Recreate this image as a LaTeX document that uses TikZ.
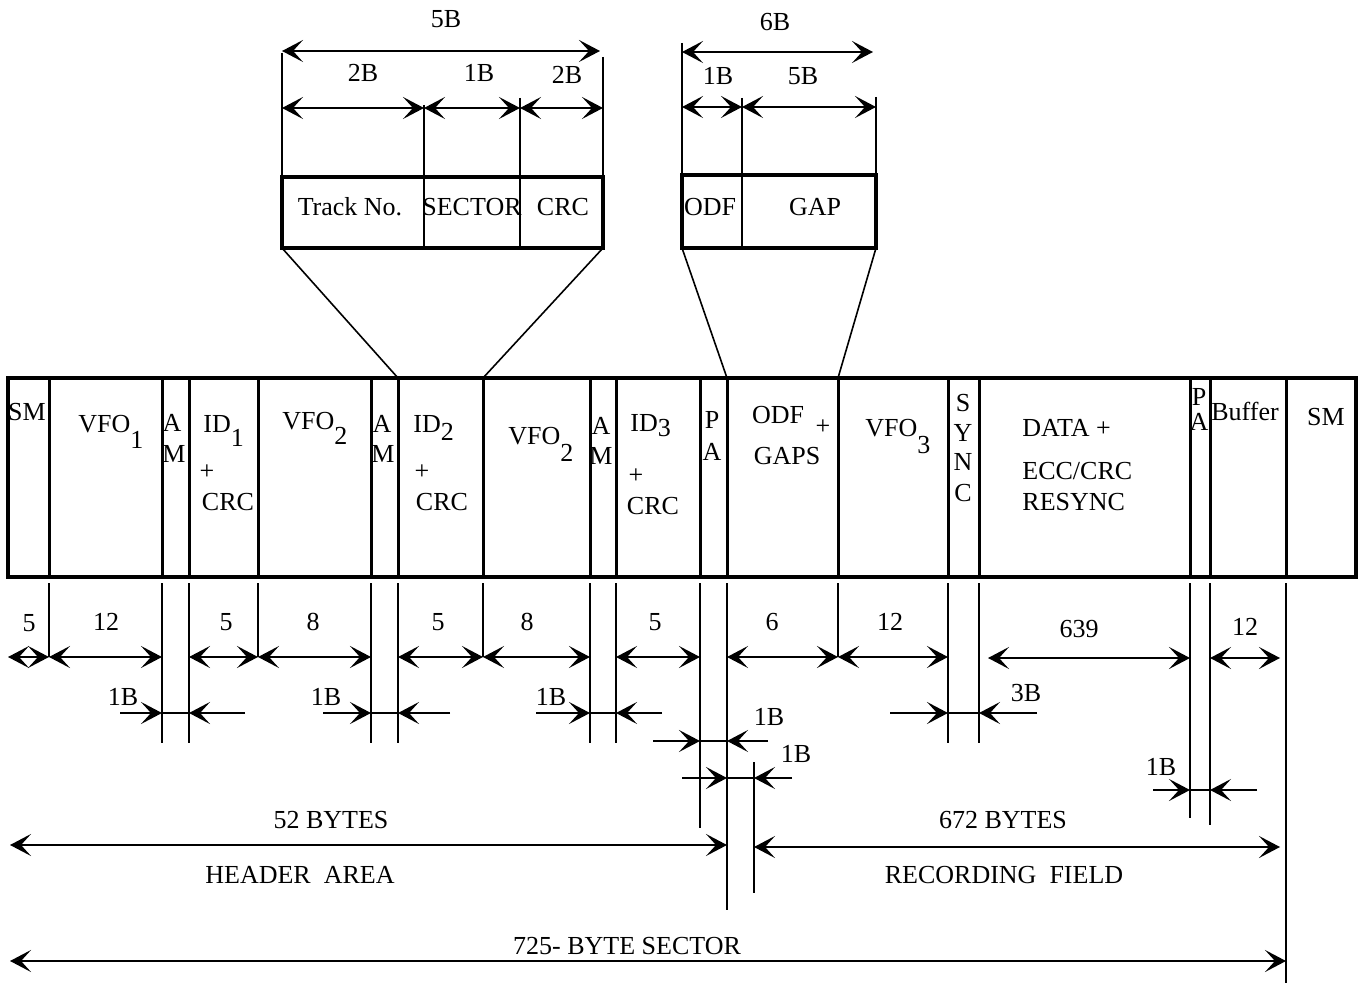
\documentclass[tikz,border=0pt]{standalone}
\usepackage{fontspec}
\setmainfont{Liberation Serif}
\usetikzlibrary{arrows.meta}

\begin{document}
\begin{tikzpicture}[x=0.5pt,y=-0.5pt,
  every node/.style={font=\fontsize{13}{15}\selectfont, inner sep=0pt},
  strip/.style={line width=2pt},
  divider/.style={line width=1.5pt},
  extline/.style={line width=0.8pt},
  dimarrow/.style={line width=1.1pt, >={Stealth[length=10.5pt,width=11pt,inset=5pt]}},
  lbl/.style={anchor=base west}]
\useasboundingbox (0,0) rectangle (1364,983);

\foreach \n/\x in {d0/8, d1/49, d2/162, d3/189, d4/258, d5/371, d6/398, d7/483, d8/590, d9/616, d10/700, d11/727, d12/838, d13/948, d14/979, d15/1190, d16/1210, d17/1286, d18/1356}
  \coordinate (\n) at (\x,378);

\draw[strip] (d0) rectangle (d18 |- 0,577);
\foreach \i in {1,...,17}
  \draw[divider] (d\i) -- (d\i |- 0,577);

\node (sm1) at (27,412) {SM};
\node[lbl] (vfo1) at (78,433) {VFO\raisebox{-8pt}{1}};
\node (am1a) at (172,423) {A};
\node (am1m) at (174,454) {M};
\node[lbl] (id1) at (203,433) {ID\raisebox{-7pt}{1}};
\node (id1p) at (207,472) {+};
\node (id1c) at (228,502) {CRC};
\node[lbl] (vfo2) at (282,430) {VFO\raisebox{-7.5pt}{2}};
\node (am2a) at (382,424) {A};
\node (am2m) at (383,454) {M};
\node[lbl] (id2) at (413,433) {ID\raisebox{-4pt}{2}};
\node (id2p) at (422,472) {+};
\node (id2c) at (442,502) {CRC};
\node[lbl] (vfo2b) at (508,445) {VFO\raisebox{-8.5pt}{2}};
\node (am3a) at (601,426) {A};
\node (am3m) at (601,456) {M};
\node[lbl] (id3) at (630,432) {ID\raisebox{-2.5pt}{3}};
\node (id3p) at (636,476) {+};
\node (id3c) at (653,506) {CRC};
\node (pa1p) at (712,420) {P};
\node (pa1a) at (712,452) {A};
\node (odf) at (778,415) {ODF};
\node (odfp) at (823,427) {+};
\node (gaps) at (787,456) {GAPS};
\node[lbl] (vfo3) at (865,437) {VFO\raisebox{-8.5pt}{3}};
\foreach \c/\y in {S/403, Y/433, N/462, C/493}
  \node (sync\c) at (963,\y) {\c};
\node[anchor=west] (data) at (1022,428) {DATA +};
\node[anchor=west] (ecc) at (1022,471) {ECC/CRC};
\node[anchor=west] (resync) at (1022,502) {RESYNC};
\node (pa2p) at (1199,397) {P};
\node (pa2a) at (1199,422) {A};
\node (buf) at (1245,411) {Buffer};
\node (sm2) at (1326,417) {SM};

\foreach \i/\y in {d1/657, d2/743, d3/743, d4/657, d5/743, d6/743, d7/657, d8/743, d9/743, d10/828, d11/910, d12/657, d13/743, d14/743, d15/818, d16/825, d17/983}
  \draw[extline] (\i |- 0,583) -- (\i |- 0,\y);
\coordinate (rf) at (754,762);
\draw[extline] (rf) -- (rf |- 0,893);

\foreach \a/\b in {d0/d1, d1/d2, d3/d4, d4/d5, d6/d7, d7/d8, d9/d10, d11/d12, d12/d13}
  \draw[dimarrow,<->] (\a |- 0,657) -- (\b |- 0,657);
\coordinate (datal) at (988,658);
\coordinate (bufr) at (1280,658);
\draw[dimarrow,<->] (datal) -- (d15 |- datal);
\draw[dimarrow,<->] (d16 |- bufr) -- (bufr);

\foreach \t/\x/\y in {5/29/623, 12/106/622, 5/226/622, 8/313/622, 5/438/622, 8/527/622, 5/655/622, 6/772/622, 12/890/622, 639/1079/629, 12/1245/627}
  \node at (\x,\y) {\t};

\foreach \l/\r/\xa/\xb/\y in {d2/d3/120/245/713, d5/d6/323/450/713, d8/d9/536/662/713, d13/d14/890/1037/713, d10/d11/653/768/741, d15/d16/1153/1257/790}{
  \draw[dimarrow,->] (\xa,\y) -- (\l |- 0,\y);
  \draw[dimarrow] (\l |- 0,\y) -- (\r |- 0,\y);
  \draw[dimarrow,->] (\xb,\y) -- (\r |- 0,\y);
}
\draw[dimarrow,->] (682,778) -- (d11 |- 0,778);
\draw[dimarrow] (d11 |- 0,778) -- (rf |- 0,778);
\draw[dimarrow,->] (792,778) -- (rf |- 0,778);

\node (b1) at (123,697) {1B};
\node (b2) at (326,697) {1B};
\node (b3) at (551,697) {1B};
\node (b4) at (769,717) {1B};
\node (b5) at (796,754) {1B};
\node (b6) at (1026,693) {3B};
\node (b7) at (1161,767) {1B};

\draw[dimarrow,<->] (10,845) -- (d11 |- 0,845);
\draw[dimarrow,<->] (rf |- 0,847) -- (1280,847);
\draw[dimarrow,<->] (10,961) -- (d17 |- 0,961);
\node (hdrb) at (331,820) {52 BYTES};
\node (hdr) at (300,875) {HEADER\ \ AREA};
\node (recb) at (1003,820) {672 BYTES};
\node (rec) at (1004,875) {RECORDING\ \ FIELD};
\node (sect) at (627,946) {725- BYTE SECTOR};

\coordinate (idf-sw) at (282,248);
\coordinate (idf-se) at (603,248);
\draw[strip] (282,177) rectangle (idf-se);
\draw[extline] (282,53) -- (282,177);
\draw[extline] (603,57) -- (603,177);
\draw[extline] (424,105) -- (424,248);
\draw[extline] (520,98) -- (520,248);
\draw[dimarrow,<->] (282,51) -- (600,51);
\draw[dimarrow,<->] (282,108) -- (424,108);
\draw[dimarrow,<->] (424,108) -- (520,108);
\draw[dimarrow,<->] (520,108) -- (603,108);
\node (t5b) at (446,19) {5B};
\node (t2b) at (363,73) {2B};
\node (t1b) at (479,73) {1B};
\node (t2bb) at (567,75) {2B};
\node (trk) at (350,207) {Track No.};
\node (sec) at (472,207) {SECTOR};
\node (crc) at (563,207) {CRC};
\draw[extline] (idf-sw) -- (d6);
\draw[extline] (idf-se) -- (d7);

\coordinate (odf-sw) at (682,248);
\coordinate (odf-se) at (876,248);
\draw[strip] (682,175) rectangle (odf-se);
\draw[extline] (682,43) -- (682,175);
\draw[extline] (742,98) -- (742,248);
\draw[extline] (876,97) -- (876,175);
\draw[dimarrow,<->] (682,52) -- (873,52);
\draw[dimarrow,<->] (682,107) -- (742,107);
\draw[dimarrow,<->] (742,107) -- (876,107);
\node (t6b) at (775,22) {6B};
\node (t1bb) at (718,76) {1B};
\node (t5bb) at (803,76) {5B};
\node (odft) at (710,207) {ODF};
\node (gap) at (815,207) {GAP};
\draw[extline] (odf-sw) -- (d11);
\draw[extline] (odf-se) -- (d12);

\end{tikzpicture}
\end{document}
